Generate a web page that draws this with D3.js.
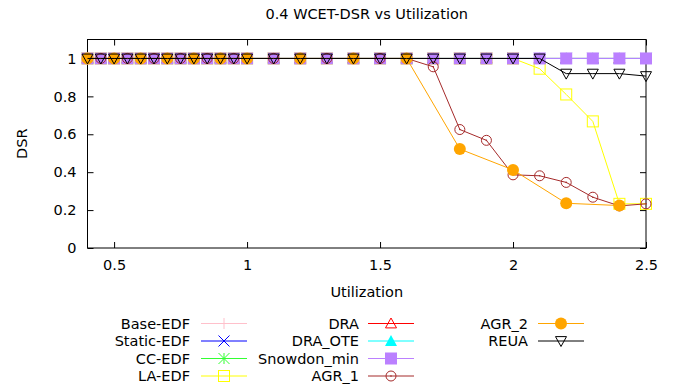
<!DOCTYPE html>
<html>
<head>
<meta charset="utf-8">
<script src="https://cdn.jsdelivr.net/npm/d3@7"></script>
<style>
    body { margin: 0; background: #fff; }
    text { font-family: "DejaVu Sans", sans-serif; font-size: 14.5px; fill: #000; }
</style>
</head>
<body>
<div id="chart"></div>
<script>
// utilization values (0.05 steps up to 1, then 0.1 steps)
const utilization = [0.4, 0.45, 0.5, 0.55, 0.6, 0.65, 0.7, 0.75, 0.8, 0.85, 0.9, 0.95, 1.0,
    1.1, 1.2, 1.3, 1.4, 1.5, 1.6, 1.7, 1.8, 1.9, 2.0, 2.1, 2.2, 2.3, 2.4, 2.5];
// AGR_2 only has every other point
const utilizationAgr2 = [0.4, 0.5, 0.6, 0.7, 0.8, 0.9, 1.0, 1.2, 1.4, 1.6, 1.8, 2.0, 2.2, 2.4];

const seriesNames = ["Base-EDF", "Static-EDF", "CC-EDF", "LA-EDF", "DRA", "DRA_OTE",
    "Snowdon_min", "AGR_1", "AGR_2", "REUA"];

const baseEdf =    [1, 1, 1, 1, 1, 1, 1, 1, 1, 1, 1, 1, 1, 1, 1, 1, 1, 1, 1, 1, 1, 1, 1, 1, 1, 1, 1, 1];
const staticEdf =  [1, 1, 1, 1, 1, 1, 1, 1, 1, 1, 1, 1, 1, 1, 1, 1, 1, 1, 1, 1, 1, 1, 1, 1, 1, 1, 1, 1];
const ccEdf =      [1, 1, 1, 1, 1, 1, 1, 1, 1, 1, 1, 1, 1, 1, 1, 1, 1, 1, 1, 1, 1, 1, 1, 1, 1, 1, 1, 1];
const laEdf =      [1, 1, 1, 1, 1, 1, 1, 1, 1, 1, 1, 1, 1, 1, 1, 1, 1, 1, 1, 1, 1, 1, 1, 0.946, 0.81, 0.668, 0.233, 0.233];
const dra =        [1, 1, 1, 1, 1, 1, 1, 1, 1, 1, 1, 1, 1, 1, 1, 1, 1, 1, 1, 1, 1, 1, 1, 1, 1, 1, 1, 1];
const draOte =     [1, 1, 1, 1, 1, 1, 1, 1, 1, 1, 1, 1, 1, 1, 1, 1, 1, 1, 1, 1, 1, 1, 1, 1, 1, 1, 1, 1];
const snowdonMin = [1, 1, 1, 1, 1, 1, 1, 1, 1, 1, 1, 1, 1, 1, 1, 1, 1, 1, 1, 1, 1, 1, 1, 1, 1, 1, 1, 1];
const agr1 =       [1, 1, 1, 1, 1, 1, 1, 1, 1, 1, 1, 1, 1, 1, 1, 1, 1, 1, 1, 0.956, 0.625, 0.568, 0.386, 0.381, 0.346, 0.268, 0.222, 0.233];
const agr2 =       [1, 1, 1, 1, 1, 1, 1, 1, 1, 1, 0.522, 0.412, 0.236, 0.224];
const reua =       [1, 1, 1, 1, 1, 1, 1, 1, 1, 1, 1, 1, 1, 1, 1, 1, 1, 1, 1, 1, 1, 1, 1, 1, 0.92, 0.92, 0.92, 0.907];

const xTicks = [0.5, 1, 1.5, 2, 2.5];
const yTicks = [0, 0.2, 0.4, 0.6, 0.8, 1];

const seriesColors = ["#ffc0cb", "#0000ff", "#33ff33", "#ffff00", "#ff0000", "#00ffff",
    "#bb80ff", "#a52a2a", "#ffa500", "#000000"];
const seriesMarkers = ["plus", "cross", "star", "square", "triangle", "triangleFill",
    "squareFill", "circle", "circleFill", "triangleDown"];

const width = 680, height = 386;
const margin = {top: 39.5, right: 34, bottom: 138, left: 87.5};

const svg = d3.select("#chart").append("svg")
    .attr("width", width)
    .attr("height", height);

const xScale = d3.scaleLinear().domain([0.4, 2.5]).range([margin.left, width - margin.right]);
const yScale = d3.scaleLinear().domain([0, 1.1]).range([height - margin.bottom, margin.top]);

const values = [baseEdf, staticEdf, ccEdf, laEdf, dra, draOte, snowdonMin, agr1, agr2, reua];
const series = seriesNames.map((name, i) => {
    const xs = name === "AGR_2" ? utilizationAgr2 : utilization;
    return {
        name: name,
        color: seriesColors[i],
        marker: seriesMarkers[i],
        points: xs.map((u, j) => ({x: u, y: values[i][j]}))
    };
});

// gnuplot-like point symbols, drawn around (0,0)
function drawMarker(g, type, color) {
    const s = 5.5;
    switch (type) {
        case "plus":
            g.append("path").attr("d", `M${-s},0H${s}M0,${-s}V${s}`)
                .attr("stroke", color).attr("fill", "none");
            break;
        case "cross":
            g.append("path").attr("d", `M${-s},${-s}L${s},${s}M${-s},${s}L${s},${-s}`)
                .attr("stroke", color).attr("fill", "none");
            break;
        case "star":
            g.append("path").attr("d", `M${-s},0H${s}M0,${-s}V${s}M${-s},${-s}L${s},${s}M${-s},${s}L${s},${-s}`)
                .attr("stroke", color).attr("fill", "none");
            break;
        case "square":
            g.append("rect").attr("x", -s).attr("y", -s).attr("width", 2 * s).attr("height", 2 * s)
                .attr("stroke", color).attr("fill", "none");
            break;
        case "squareFill":
            g.append("rect").attr("x", -6).attr("y", -6).attr("width", 12).attr("height", 12)
                .attr("fill", color);
            break;
        case "triangle":
            g.append("path").attr("d", `M0,${-s}L${s},${s * 0.8}L${-s},${s * 0.8}Z`)
                .attr("stroke", color).attr("fill", "none");
            break;
        case "triangleFill":
            g.append("path").attr("d", `M0,${-6}L6,5L-6,5Z`)
                .attr("fill", color);
            break;
        case "triangleDown":
            g.append("path").attr("d", `M0,${s}L${s},${-s * 0.8}L${-s},${-s * 0.8}Z`)
                .attr("stroke", color).attr("fill", "none");
            break;
        case "circle":
            g.append("circle").attr("r", 5).attr("stroke", color).attr("fill", "none");
            g.append("circle").attr("r", 0.8).attr("fill", color);
            break;
        case "circleFill":
            g.append("circle").attr("r", 6).attr("fill", color);
            break;
    }
}

// axes: ticks point inward, mirrored on top and right
const plotBottom = height - margin.bottom;
const plotRight = width - margin.right;

const xAxis = d3.axisBottom(xScale).tickValues(xTicks).tickSize(-6).tickPadding(12)
    .tickFormat(d3.format("~g"));
svg.append("g").attr("class", "x-axis")
    .attr("transform", `translate(0,${plotBottom})`)
    .call(xAxis);
svg.append("g").attr("class", "x-axis-top")
    .attr("transform", `translate(0,${margin.top})`)
    .call(d3.axisTop(xScale).tickValues(xTicks).tickSize(-6).tickFormat(""));

const yAxis = d3.axisLeft(yScale).tickValues(yTicks).tickSize(-6).tickPadding(11)
    .tickFormat(d3.format("~g"));
svg.append("g").attr("class", "y-axis")
    .attr("transform", `translate(${margin.left},0)`)
    .call(yAxis);
svg.append("g").attr("class", "y-axis-right")
    .attr("transform", `translate(${plotRight},0)`)
    .call(d3.axisRight(yScale).tickValues(yTicks).tickSize(-6).tickFormat(""));

svg.selectAll(".domain").remove();
svg.selectAll(".tick line").attr("stroke", "#000");
svg.selectAll(".tick text").attr("font-size", 14.5).attr("font-family", "DejaVu Sans").attr("fill", "#000");

// plot border
svg.append("rect")
    .attr("x", margin.left)
    .attr("y", margin.top)
    .attr("width", plotRight - margin.left)
    .attr("height", plotBottom - margin.top)
    .attr("fill", "none")
    .attr("stroke", "#000");

// lines and points, drawn series by series
const line = d3.line().x(d => xScale(d.x)).y(d => yScale(d.y));
series.forEach(s => {
    const g = svg.append("g").attr("class", "series");
    g.append("path")
        .datum(s.points)
        .attr("d", line)
        .attr("fill", "none")
        .attr("stroke", s.color)
        .attr("stroke-width", 1);
    g.selectAll(".pt")
        .data(s.points)
        .enter()
        .append("g")
        .attr("class", "pt")
        .attr("transform", d => `translate(${xScale(d.x)},${yScale(d.y)})`)
        .each(function() { drawMarker(d3.select(this), s.marker, s.color); });
});

// title and axis labels
svg.append("text")
    .attr("x", (margin.left + plotRight) / 2)
    .attr("y", 19)
    .attr("text-anchor", "middle")
    .text("0.4 WCET-DSR vs Utilization");

svg.append("text")
    .attr("x", (margin.left + plotRight) / 2)
    .attr("y", 297)
    .attr("text-anchor", "middle")
    .text("Utilization");

svg.append("text")
    .attr("transform", `translate(27,${(margin.top + plotBottom) / 2}) rotate(-90)`)
    .attr("text-anchor", "middle")
    .text("DSR");

// legend: three columns of four rows
const legendCols = [{textX: 190, lineX: 201}, {textX: 359, lineX: 368}, {textX: 528, lineX: 538}];
const legend = svg.append("g").attr("class", "legend");
series.forEach((s, i) => {
    const col = legendCols[Math.floor(i / 4)];
    const y = 323.5 + (i % 4) * 17.5;
    const item = legend.append("g");
    item.append("text")
        .attr("x", col.textX)
        .attr("y", y + 5)
        .attr("text-anchor", "end")
        .text(s.name);
    item.append("line")
        .attr("x1", col.lineX).attr("x2", col.lineX + 46)
        .attr("y1", y).attr("y2", y)
        .attr("stroke", s.color);
    const m = item.append("g").attr("transform", `translate(${col.lineX + 23},${y})`);
    drawMarker(m, s.marker, s.color);
});
</script>
</body>
</html>
